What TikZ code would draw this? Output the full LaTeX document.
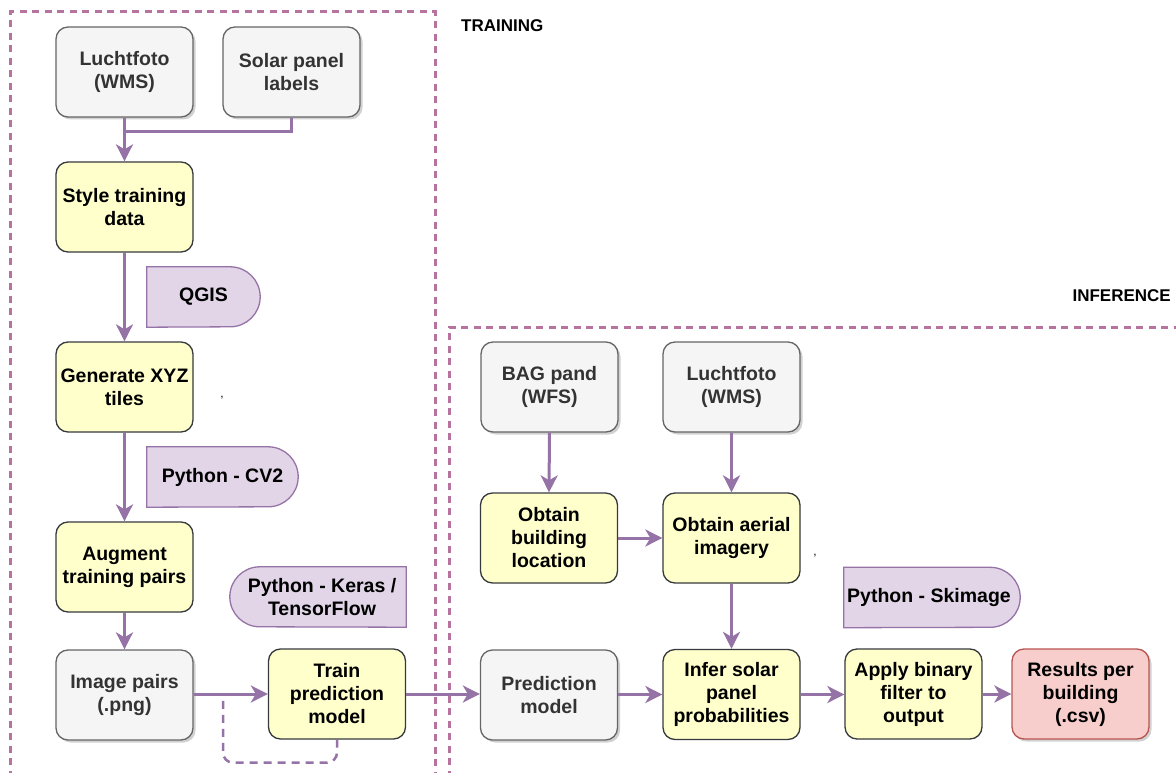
\documentclass[tikz,border=0pt]{standalone}
\usepackage{fontspec}
\setmainfont{Liberation Sans}
\usetikzlibrary{shadows,arrows.meta,calc}

\definecolor{grayfill}{HTML}{F5F5F5}
\definecolor{graydraw}{HTML}{666666}
\definecolor{graytext}{HTML}{333333}
\definecolor{yelfill}{HTML}{FFFFCC}
\definecolor{yeldraw}{HTML}{36393D}
\definecolor{purfill}{HTML}{E1D5E7}
\definecolor{purdraw}{HTML}{9673A6}
\definecolor{redfill}{HTML}{F8CECC}
\definecolor{reddraw}{HTML}{B85450}
\definecolor{framecol}{HTML}{B5739D}

\tikzset{
  basebox/.style={rounded corners=12pt, minimum width=137pt, minimum height=90pt,
    align=center, line width=1.3pt, inner sep=0pt,
    font=\bfseries\fontsize{19.5}{23}\selectfont},
  databox/.style={basebox, fill=grayfill, draw=graydraw, text=graytext,
    drop shadow={shadow xshift=2.5pt, shadow yshift=-2.5pt, fill=black, opacity=0.18}},
  stepbox/.style={basebox, fill=yelfill, draw=yeldraw, text=black},
  resultbox/.style={basebox, fill=redfill, draw=reddraw, text=black,
    drop shadow={shadow xshift=2.5pt, shadow yshift=-2.5pt, fill=black, opacity=0.18}},
  tooltext/.style={minimum height=60pt, inner sep=0pt, align=center, text=black,
    font=\bfseries\fontsize{19.5}{23}\selectfont},
  toolshape/.style={fill=purfill, draw=purdraw, line width=1.3pt},
  flow/.style={draw=purdraw, line width=3pt,
    -{Stealth[length=17pt, width=17pt, inset=5pt]}},
  flowline/.style={draw=purdraw, line width=3pt},
  dashloop/.style={draw=purdraw, line width=2.5pt, dash pattern=on 8pt off 6pt,
    rounded corners=10pt},
  frame/.style={draw=framecol, line width=3pt, dash pattern=on 7pt off 5.5pt},
  heading/.style={font=\bfseries\fontsize{17}{20}\selectfont, text=black, inner sep=0pt},
  stray/.style={font=\fontsize{12}{14}\selectfont, inner sep=0pt}
}

\begin{document}
\begin{tikzpicture}[x=1pt, y=-1pt]
\path[use as bounding box] (0,0) rectangle (1176,773);
\clip (0,0) rectangle (1176,773);

% section frames
\draw[frame] (10,790) -- (10,12) -- (435,12) -- (435,790);
\draw[frame] (449,790) -- (449,327) -- (1190,327);
\node[heading, anchor=west] (trainlbl) at (461,26) {TRAINING};
\node[heading, anchor=east] (inflbl) at (1171,296) {INFERENCE};

% ---- training ----
\node[databox] (luch) at (124.5,72) {Luchtfoto\\(WMS)};
\node[databox] (solar) at (291.5,72) {Solar panel\\labels};
\node[stepbox] (style) at (124.5,207) {Style training\\data};
\node[stepbox] (xyz) at (124.5,387) {Generate XYZ\\tiles};
\node[stepbox] (augment) at (124.5,567) {Augment\\training pairs};
\node[databox] (pairs) at (124.5,695) {Image pairs\\(.png)};
\node[stepbox] (train) at (337,694) {Train\\prediction\\model};

% tool annotations
\node[tooltext, minimum width=113pt] (qgis) at (203.5,297) {};
\draw[toolshape] (qgis.north west) -- ($(qgis.north east)+(-30,0)$)
  arc[start angle=90, end angle=-90, radius=30pt] -- (qgis.south west) -- cycle;
\node[tooltext] at (qgis.center) {QGIS};

\node[tooltext, minimum width=151pt] (cv2) at (222.5,477) {};
\draw[toolshape] (cv2.north west) -- ($(cv2.north east)+(-30,0)$)
  arc[start angle=90, end angle=-90, radius=30pt] -- (cv2.south west) -- cycle;
\node[tooltext] at (cv2.center) {Python - CV2};

\node[tooltext, minimum width=176pt] (keras) at (318,597) {};
\draw[toolshape] (keras.north east) -- ($(keras.north west)+(30,0)$)
  arc[start angle=90, end angle=270, radius=30pt] -- (keras.south east) -- cycle;
\node[tooltext, xshift=4pt] at (keras.center) {Python - Keras /\\TensorFlow};

\node[stray] (comma1) at (222,398) {,};

% ---- inference ----
\node[databox] (bag) at (549.5,387) {BAG pand\\(WFS)};
\node[databox] (luch2) at (731.5,387) {Luchtfoto\\(WMS)};
\node[stepbox] (building) at (549,538) {Obtain\\building\\location};
\node[stepbox] (aerial) at (731.5,538) {Obtain aerial\\imagery};
\node[databox] (pred) at (549,695) {Prediction\\model};
\node[stepbox] (infer) at (731.5,694.5) {Infer solar\\panel\\probabilities};
\node[stepbox] (binary) at (913.5,694) {Apply binary\\filter to\\output};
\node[resultbox] (results) at (1080.5,694) {Results per\\building\\(.csv)};

\node[tooltext, minimum width=176pt] (skimage) at (932,597.5) {};
\draw[toolshape] (skimage.north west) -- ($(skimage.north east)+(-30,0)$)
  arc[start angle=90, end angle=-90, radius=30pt] -- (skimage.south west) -- cycle;
\node[tooltext, xshift=-3pt] at (skimage.center) {Python - Skimage};

\node[stray] (comma2) at (815,556) {,};

% ---- connectors ----
\coordinate (merge) at (124.5,132);
\draw[flowline] (solar.south) |- (merge);
\draw[flow] (luch.south) -- (style.north);
\draw[flow] (style.south) -- (xyz.north);
\draw[flow] (xyz.south) -- (augment.north);
\draw[flow] (augment.south) -- (pairs.north);
\draw[flow] (pairs.east |- train.west) -- (train.west);
\coordinate (loopend) at (223,696);
\draw[dashloop] (train.south) -- ++(0,23) -| (loopend);
\draw[flow] (train.east) -- (pred.west |- train.east);

\draw[flow] (bag.south) -- (building.north);
\draw[flow] (luch2.south) -- (aerial.north);
\draw[flow] (building.east) -- (aerial.west);
\draw[flow] (aerial.south) -- (infer.north);
\draw[flow] (pred.east |- infer.west) -- (infer.west);
\draw[flow] (infer.east) -- (binary.west |- infer.east);
\draw[flow] (binary.east) -- (results.west);
\end{tikzpicture}
\end{document}
